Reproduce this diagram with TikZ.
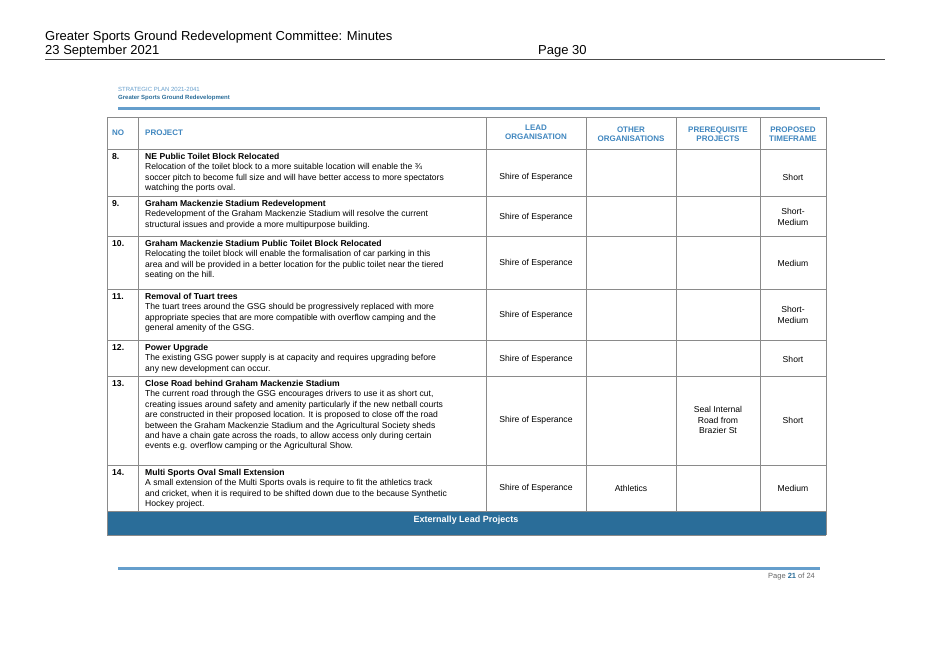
\documentclass[tikz,border=0pt]{standalone}
\usepackage{fontspec}
\setmainfont{Liberation Sans}
\definecolor{hdblue}{HTML}{3F86BF}
\definecolor{barblue}{HTML}{2A6D99}
\definecolor{grid}{HTML}{8A8A8A}
\begin{document}
\begin{tikzpicture}[x=1pt,y=-1pt,
  body/.style={font=\fontsize{8.6}{10.4}\selectfont,align=left,anchor=north west,inner sep=0pt},
  cell/.style={font=\fontsize{8.6}{10.4}\selectfont,align=center,inner sep=0pt},
  hd/.style={font=\fontsize{8}{9}\selectfont\bfseries,text=hdblue,align=center,inner sep=0pt},
  gl/.style={draw=grid,line width=0.8pt}]
\useasboundingbox[fill=white] (0,0) rectangle (928,656);
% page header
\node[anchor=west,inner sep=0pt,font=\fontsize{13}{14}\selectfont] (t1) at (45,37) {Greater Sports Ground Redevelopment Committee: Minutes};
\node[anchor=west,inner sep=0pt,font=\fontsize{13}{14}\selectfont] (t2) at (45,51) {23 September 2021};
\node[anchor=west,inner sep=0pt,font=\fontsize{13}{14}\selectfont] (pg) at (538,51) {Page 30};
\draw[line width=0.8pt,black!70] (45,59) -- (885,59);
\node[anchor=west,inner sep=0pt,font=\fontsize{6}{7}\selectfont,text=hdblue!80] (sp) at (118,89) {STRATEGIC PLAN 2021-2041};
\node[anchor=west,inner sep=0pt,font=\fontsize{6}{7}\selectfont\bfseries,text=barblue] (sg) at (118,98) {Greater Sports Ground Redevelopment};
\fill[hdblue!80] (118,107) rectangle (820,109.5);
% table grid
\fill[barblue] (107,511) rectangle (826,535);
\foreach \y in {117,149,196,236,289,340,376,465,511} \draw[gl] (107,\y) -- (826,\y);
\draw[gl] (107,535) -- (826,535);
\foreach \x in {107,826} \draw[gl] (\x,117) -- (\x,535);
\foreach \x in {138,486,586,676,760} \draw[gl] (\x,117) -- (\x,511);
% header
\node[hd,anchor=west] (hno) at (112,133) {NO};
\node[hd,anchor=west] (hpr) at (145,133) {PROJECT};
\node[hd] (hl) at (536,132) {LEAD\\ORGANISATION};
\node[hd] (ho) at (631,134) {OTHER\\ORGANISATIONS};
\node[hd] (hp) at (718,134) {PREREQUISITE\\PROJECTS};
\node[hd] (ht) at (793,134) {PROPOSED\\TIMEFRAME};
% rows
\newcommand{\rowx}[8]{%
 \node[body,font=\fontsize{8.6}{10.4}\selectfont\bfseries] (n#1) at (112,#2) {#1.};
 \node[body] (p#1) at (145,#2) {\textbf{#3}\\#4};
 \node[cell] (l#1) at (536,#5) {Shire of Esperance};
 \node[cell] (o#1) at (631,#5) {#6};
 \node[cell] (q#1) at (718,#5) {#7};
 \node[cell] (f#1) at (793,#5) {#8};}
\rowx{8}{153}{NE Public Toilet Block Relocated}{Relocation of the toilet block to a more suitable location will enable the ¾\\soccer pitch to become full size and will have better access to more spectators\\watching the ports oval.}{177}{}{}{Short}
\rowx{9}{200}{Graham Mackenzie Stadium Redevelopment}{Redevelopment of the Graham Mackenzie Stadium will resolve the current\\structural issues and provide a more multipurpose building.}{217}{}{}{Short-\\Medium}
\rowx{10}{240}{Graham Mackenzie Stadium Public Toilet Block Relocated}{Relocating the toilet block will enable the formalisation of car parking in this\\area and will be provided in a better location for the public toilet near the tiered\\seating on the hill.}{263}{}{}{Medium}
\rowx{11}{293}{Removal of Tuart trees}{The tuart trees around the GSG should be progressively replaced with more\\appropriate species that are more compatible with overflow camping and the\\general amenity of the GSG.}{315}{}{}{Short-\\Medium}
\rowx{12}{344}{Power Upgrade}{The existing GSG power supply is at capacity and requires upgrading before\\any new development can occur.}{359}{}{}{Short}
\rowx{13}{380}{Close Road behind Graham Mackenzie Stadium}{The current road through the GSG encourages drivers to use it as short cut,\\creating issues around safety and amenity particularly if the new netball courts\\are constructed in their proposed location. It is proposed to close off the road\\between the Graham Mackenzie Stadium and the Agricultural Society sheds\\and have a chain gate across the roads, to allow access only during certain\\events e.g. overflow camping or the Agricultural Show.}{420}{}{Seal Internal\\Road from\\Brazier St}{Short}
\rowx{14}{469}{Multi Sports Oval Small Extension}{A small extension of the Multi Sports ovals is require to fit the athletics track\\and cricket, when it is required to be shifted down due to the because Synthetic\\Hockey project.}{488}{Athletics}{}{Medium}
\node[font=\fontsize{9}{10}\selectfont\bfseries,text=white,inner sep=0pt] (ext) at (466,520) {Externally Lead Projects};
% footer
\fill[hdblue!80] (118,567) rectangle (820,569.5);
\node[anchor=west,inner sep=0pt,font=\fontsize{7.5}{8}\selectfont,text=black!60] (pf) at (768,577) {Page \textbf{\color{barblue}21} of 24};
\end{tikzpicture}
\end{document}
